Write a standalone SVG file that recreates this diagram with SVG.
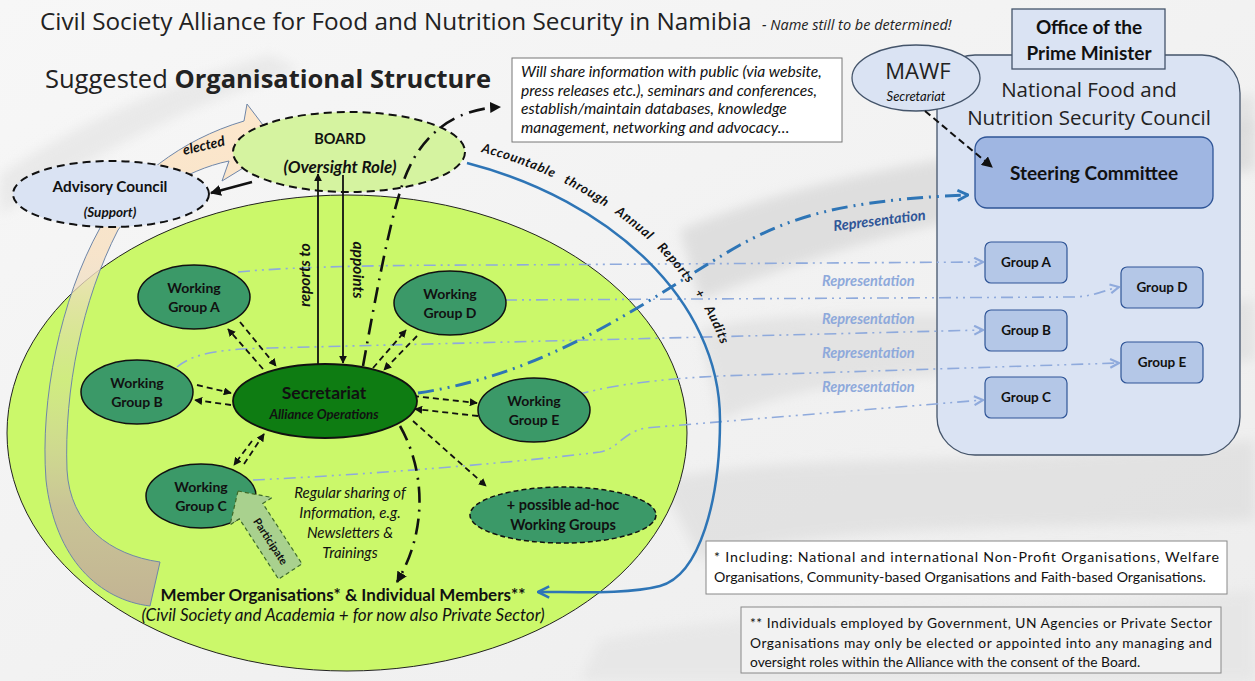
<svg xmlns="http://www.w3.org/2000/svg" width="1255" height="681" viewBox="0 0 1255 681">
<defs>
<style>
.t{font-family:Lato,"Liberation Sans",sans-serif;fill:#111}
.o{font-family:"Open Sans","Liberation Sans",sans-serif;fill:#222}
.b{font-weight:700}
.i{font-style:italic}
.wg{fill:#3b9968;stroke:#111;stroke-width:1.5}
.dash{fill:none;stroke:#111;stroke-width:1.8;stroke-dasharray:6 4;marker-end:url(#ah)}
.rep{fill:none;stroke:#8faadc;stroke-width:1.6;stroke-dasharray:12 5 2 5 2 5;marker-end:url(#chev)}
.repl{font-family:Lato,"Liberation Sans",sans-serif;font-weight:700;font-style:italic;font-size:14.5px;fill:#8ea9db}
.grp{fill:#b4c7e7;stroke:#2f5597;stroke-width:1.2}
.gt{font-family:Lato,"Liberation Sans",sans-serif;font-weight:700;font-size:13.5px;fill:#111;text-anchor:middle}
.ddot{fill:none;stroke:#111;stroke-width:2.6;stroke-dasharray:16 7 2 7}
</style>
<marker id="ah" viewBox="0 0 10 10" refX="9" refY="5" markerWidth="8" markerHeight="8" markerUnits="userSpaceOnUse" orient="auto"><path d="M0,0 L10,5 L0,10 z" fill="#111"/></marker>
<marker id="ahb" viewBox="0 0 10 10" refX="9" refY="5" markerWidth="11" markerHeight="11" markerUnits="userSpaceOnUse" orient="auto"><path d="M0,0 L10,5 L0,10 z" fill="#111"/></marker>
<marker id="chev" viewBox="0 0 10 10" refX="9" refY="5" markerWidth="11" markerHeight="11" markerUnits="userSpaceOnUse" orient="auto"><path d="M1,1 L9,5 L1,9" fill="none" stroke="#8faadc" stroke-width="2"/></marker>
<marker id="chevB" viewBox="0 0 10 10" refX="9" refY="5" markerWidth="13" markerHeight="13" markerUnits="userSpaceOnUse" orient="auto"><path d="M1,1 L9,5 L1,9" fill="none" stroke="#2e75b6" stroke-width="2.2"/></marker>
<marker id="acc" viewBox="0 0 10 10" refX="9" refY="5" markerWidth="14" markerHeight="14" markerUnits="userSpaceOnUse" orient="auto"><path d="M1,1 L9,5 L1,9" fill="none" stroke="#2e75b6" stroke-width="1.8"/></marker>
<linearGradient id="band" x1="0" y1="0" x2="0" y2="1">
<stop offset="0" stop-color="#fde7cc"/>
<stop offset="0.3" stop-color="#f7e2c6" stop-opacity="0.9"/>
<stop offset="0.55" stop-color="#d9cfb3" stop-opacity="0.3"/>
<stop offset="0.8" stop-color="#c9bc9d" stop-opacity="0.85"/>
<stop offset="1" stop-color="#c2b393"/>
</linearGradient>
<linearGradient id="bg" x1="0" y1="0" x2="1" y2="1">
<stop offset="0" stop-color="#f7f7f7"/>
<stop offset="1" stop-color="#ededed"/>
</linearGradient>
<filter id="blur" x="-20%" y="-20%" width="140%" height="140%"><feGaussianBlur stdDeviation="6"/></filter>
</defs>

<g id="background">
<rect x="0" y="0" width="1255" height="681" fill="url(#bg)"/>
<path d="M0,175 C80,120 180,80 270,55 L300,70 C200,100 100,150 0,215 Z" fill="#e4e4e4" opacity="0.7" filter="url(#blur)"/>
<path d="M680,230 C800,180 950,150 1255,120 L1255,170 C1000,200 850,240 700,300 Z" fill="#d6d6d6" opacity="0.7" filter="url(#blur)"/>
<path d="M700,330 C820,300 930,330 1255,300 L1255,360 C1000,380 850,360 720,420 Z" fill="#dadada" opacity="0.6" filter="url(#blur)"/>
<path d="M660,480 C800,450 950,470 1255,440 L1255,520 C1050,530 850,520 700,560 Z" fill="#d8d8d8" opacity="0.55" filter="url(#blur)"/>
<path d="M600,640 C800,600 1000,620 1255,590 L1255,681 L580,681 Z" fill="#e2e2e2" opacity="0.6" filter="url(#blur)"/>
<path d="M1120,130 C1170,110 1210,100 1255,95 L1255,130 C1220,135 1180,140 1150,150 Z" fill="#d9d9d9" opacity="0.6" filter="url(#blur)"/>
</g>

<g id="titles">
<text class="o" x="40" y="30" font-size="24.3">Civil Society Alliance for Food and Nutrition Security in Namibia</text>
<text class="o i" x="762" y="30" font-size="14.5">- Name still to be determined!</text>
<text class="o" x="45" y="88" font-size="25.5">Suggested <tspan font-weight="700">Organisational Structure</tspan></text>
</g>

<g id="alliance">
<ellipse cx="347" cy="433" rx="340" ry="238" fill="#cbf86a" stroke="#222" stroke-width="1"/>
<text class="t b" x="343" y="601" font-size="17" text-anchor="middle">Member Organisations* &amp; Individual Members**</text>
<text class="t i" x="343" y="621" font-size="17" text-anchor="middle">(Civil Society and Academia + for now also Private Sector)</text>
<text class="t i" x="350" y="498" font-size="15" text-anchor="middle">Regular sharing of</text>
<text class="t i" x="350" y="518" font-size="15" text-anchor="middle">Information, e.g.</text>
<text class="t i" x="350" y="538" font-size="15" text-anchor="middle">Newsletters &amp;</text>
<text class="t i" x="350" y="558" font-size="15" text-anchor="middle">Trainings</text>
</g>

<g id="elected-arrow">
<path d="M150,606 C100,600 55,560 46,480 C40,400 60,300 100,228 C130,180 180,140 244,121 L247,104 L279,146 L222,181 L229,161 C185,170 140,200 118,230 C82,300 64,390 67,470 C70,525 110,555 160,562 Z" fill="url(#band)" stroke="#6f86a8" stroke-width="1"/>
<text class="t b i" x="0" y="0" font-size="14" transform="translate(184,155) rotate(-13)">elected</text>
</g>

<g id="board">
<ellipse cx="349" cy="152" rx="116" ry="40" fill="#d5f3a0" stroke="#111" stroke-width="2" stroke-dasharray="8 5"/>
<text class="t b" x="340" y="144" font-size="14.5" text-anchor="middle">BOARD</text>
<text class="t b i" x="340" y="173" font-size="17" text-anchor="middle">(Oversight Role)</text>
</g>

<g id="advisory">
<ellipse cx="111" cy="194" rx="98" ry="33" fill="#dae3f3" stroke="#111" stroke-width="2" stroke-dasharray="8 5"/>
<text class="t b" x="110" y="192" font-size="15.3" text-anchor="middle">Advisory Council</text>
<text class="t b i" x="110" y="217" font-size="13.5" text-anchor="middle">(Support)</text>
</g>

<g id="info">
<rect x="512" y="58" width="330" height="84" fill="#fff" stroke="#777" stroke-width="1"/>
<text class="t i" x="521" y="77" font-size="15.6">Will share information with public (via website,</text>
<text class="t i" x="521" y="95.5" font-size="15.6">press releases etc.), seminars and conferences,</text>
<text class="t i" x="521" y="114" font-size="15.6">establish/maintain databases, knowledge</text>
<text class="t i" x="521" y="132.5" font-size="15.6">management, networking and advocacy…</text>
</g>

<g id="council">
<rect x="937" y="55" width="303" height="400" rx="38" fill="#dae3f3" stroke="#44546a" stroke-width="1.3"/>
<text class="o" x="1089" y="97" font-size="20.5" text-anchor="middle">National Food and</text>
<text class="o" x="1089" y="125" font-size="20.5" text-anchor="middle">Nutrition Security Council</text>
</g>
<g id="office">
<rect x="1012" y="9" width="153" height="60" fill="#dae3f3" stroke="#44546a" stroke-width="1.3"/>
<text class="t b" x="1089" y="34" font-size="19" text-anchor="middle">Office of the</text>
<text class="t b" x="1089" y="60" font-size="19" text-anchor="middle">Prime Minister</text>
</g>
<g id="mawf">
<ellipse cx="916" cy="78" rx="64" ry="33" fill="#dae3f3" stroke="#44546a" stroke-width="1.3"/>
<text class="o" x="918" y="79" font-size="22" text-anchor="middle">MAWF</text>
<text class="t i" x="916" y="101" font-size="13" text-anchor="middle">Secretariat</text>
</g>
<g id="steering">
<rect x="975" y="137" width="238" height="71" rx="12" fill="#9fb6e2" stroke="#2f5597" stroke-width="1.3"/>
<text class="t b" x="1094" y="180" font-size="19" text-anchor="middle">Steering Committee</text>
</g>

<g id="connectors">
<path class="rep" d="M238,272 C300,266 400,265 500,265 L983,262"/>
<path class="rep" d="M505,300 L1075,297 C1095,296 1105,290 1119,287"/>
<path class="rep" d="M177,367 C195,352 225,349 270,348 L983,330"/>
<path class="rep" d="M577,395 C600,388 640,380 720,376 L1119,363"/>
<path class="rep" d="M253,480 C380,474 520,462 600,452 C618,449 622,433 645,428 L983,400"/>
<path d="M418,393 C560,372 660,290 740,245 C790,218 840,200 968,195" fill="none" stroke="#2e75b6" stroke-width="3" stroke-dasharray="16 6 2 6 2 6" marker-end="url(#chevB)"/>
<path d="M467,163 C610,200 720,300 720,420 C720,500 700,575 660,586 C630,594 580,592 538,592" fill="none" stroke="#2e75b6" stroke-width="2.5" marker-end="url(#acc)"/>
<line x1="318" y1="364" x2="318" y2="174" stroke="#111" stroke-width="1.8" marker-end="url(#ah)"/>
<line x1="343" y1="175" x2="343" y2="363" stroke="#111" stroke-width="1.8" marker-end="url(#ah)"/>
<path class="ddot" d="M363,366 C375,300 388,230 400,192 C412,150 440,110 500,107" marker-end="url(#ahb)"/>
<path class="ddot" d="M400,426 C425,470 428,530 397,582" marker-end="url(#ahb)"/>
<line x1="252" y1="182" x2="211" y2="193" stroke="#111" stroke-width="2.6" marker-end="url(#ahb)"/>
<line x1="925" y1="111" x2="992" y2="167" stroke="#111" stroke-width="2" stroke-dasharray="7 4" marker-end="url(#ahb)"/>
<path class="dash" d="M263,369 L228,329"/>
<path class="dash" d="M240,322 L276,366"/>
<path class="dash" d="M373,368 L406,330"/>
<path class="dash" d="M417,336 L384,370"/>
<path class="dash" d="M197,385 L231,393"/>
<path class="dash" d="M231,405 L195,400"/>
<path class="dash" d="M413,396 L477,403"/>
<path class="dash" d="M478,416 L415,409"/>
<path class="dash" d="M252,441 L234,465"/>
<path class="dash" d="M244,464 L264,434"/>
<path class="dash" d="M413,421 L486,486"/>
</g>

<g id="labels">
<text class="t b i" x="0" y="0" font-size="15.5" text-anchor="middle" transform="translate(310,275) rotate(-90)">reports to</text>
<text class="t b i" x="0" y="0" font-size="15.5" text-anchor="middle" transform="translate(353,270) rotate(90)">appoints</text>
<path id="accPath" d="M481,152 C620,188 730,290 734,410" fill="none"/>
<text class="t b i" font-size="13" word-spacing="7" letter-spacing="0.8"><textPath href="#accPath">Accountable through Annual Reports + Audits</textPath></text>
<text class="t b i" x="0" y="0" font-size="14.5" style="fill:#2f5597" transform="translate(834,231) rotate(-7)">Representation</text>
<text class="repl" x="822" y="286">Representation</text>
<text class="repl" x="822" y="324">Representation</text>
<text class="repl" x="822" y="358">Representation</text>
<text class="repl" x="822" y="392">Representation</text>
</g>

<g id="wg-a"><ellipse class="wg" cx="194" cy="297" rx="56" ry="32"/><text class="t b" x="194" y="293" font-size="14" text-anchor="middle">Working</text><text class="t b" x="194" y="312" font-size="14" text-anchor="middle">Group A</text></g>
<g id="wg-b"><ellipse class="wg" cx="137" cy="392" rx="56" ry="32"/><text class="t b" x="137" y="388" font-size="14" text-anchor="middle">Working</text><text class="t b" x="137" y="407" font-size="14" text-anchor="middle">Group B</text></g>
<g id="wg-c"><ellipse class="wg" cx="201" cy="496" rx="55" ry="32"/><text class="t b" x="201" y="492" font-size="14" text-anchor="middle">Working</text><text class="t b" x="201" y="511" font-size="14" text-anchor="middle">Group C</text></g>
<g id="wg-d"><ellipse class="wg" cx="450" cy="303" rx="56" ry="32"/><text class="t b" x="450" y="299" font-size="14" text-anchor="middle">Working</text><text class="t b" x="450" y="318" font-size="14" text-anchor="middle">Group D</text></g>
<g id="wg-e"><ellipse class="wg" cx="534" cy="410" rx="56" ry="32"/><text class="t b" x="534" y="406" font-size="14" text-anchor="middle">Working</text><text class="t b" x="534" y="425" font-size="14" text-anchor="middle">Group E</text></g>
<g id="wg-adhoc"><ellipse class="wg" cx="563" cy="515" rx="93" ry="28" stroke-dasharray="5 3"/><text class="t b" x="563" y="510" font-size="14.5" text-anchor="middle">+ possible ad-hoc</text><text class="t b" x="563" y="530" font-size="14.5" text-anchor="middle">Working Groups</text></g>
<g id="secretariat"><ellipse cx="325" cy="401" rx="92" ry="37" fill="#0e7c12" stroke="#111" stroke-width="1.8"/><text class="t b" x="324" y="399" font-size="17.5" text-anchor="middle">Secretariat</text><text class="t b i" x="324" y="419" font-size="13.2" text-anchor="middle">Alliance Operations</text></g>

<g id="participate" transform="translate(238,491) rotate(57)">
<path d="M0,0 L24,-25 L24,-14 L96,-14 L96,14 L24,14 L24,25 Z" fill="#a9d18e" stroke="#3f6b2a" stroke-width="1.2" stroke-dasharray="4 3"/>
<text class="t b" x="60" y="4" font-size="11" text-anchor="middle">Participate</text>
</g>

<g id="group-a"><rect class="grp" x="985" y="242" width="82" height="41" rx="6"/><text class="gt" x="1026" y="267">Group A</text></g>
<g id="group-d"><rect class="grp" x="1121" y="267" width="82" height="41" rx="6"/><text class="gt" x="1162" y="292">Group D</text></g>
<g id="group-b"><rect class="grp" x="985" y="310" width="82" height="41" rx="6"/><text class="gt" x="1026" y="335">Group B</text></g>
<g id="group-e"><rect class="grp" x="1121" y="342" width="82" height="41" rx="6"/><text class="gt" x="1162" y="367">Group E</text></g>
<g id="group-c"><rect class="grp" x="985" y="377" width="82" height="41" rx="6"/><text class="gt" x="1026" y="402">Group C</text></g>

<g id="footnote1">
<rect x="706" y="541" width="521" height="53" fill="#fff" stroke="#888" stroke-width="1"/>
<text class="t" x="714" y="562" font-size="14.2" textLength="505" lengthAdjust="spacing">* Including: National and international Non-Profit Organisations, Welfare</text>
<text class="t" x="714" y="582" font-size="14.2">Organisations, Community-based Organisations and Faith-based Organisations.</text>
</g>
<g id="footnote2">
<rect x="741" y="607" width="480" height="66" fill="#f2f2f2" stroke="#888" stroke-width="1"/>
<text class="t" x="750" y="628" font-size="13.8" textLength="462" lengthAdjust="spacing">** Individuals employed by Government, UN Agencies or Private Sector</text>
<text class="t" x="750" y="648" font-size="13.8" textLength="462" lengthAdjust="spacing">Organisations may only be elected or appointed into any managing and</text>
<text class="t" x="750" y="667" font-size="13.8">oversight roles within the Alliance with the consent of the Board.</text>
</g>
</svg>
